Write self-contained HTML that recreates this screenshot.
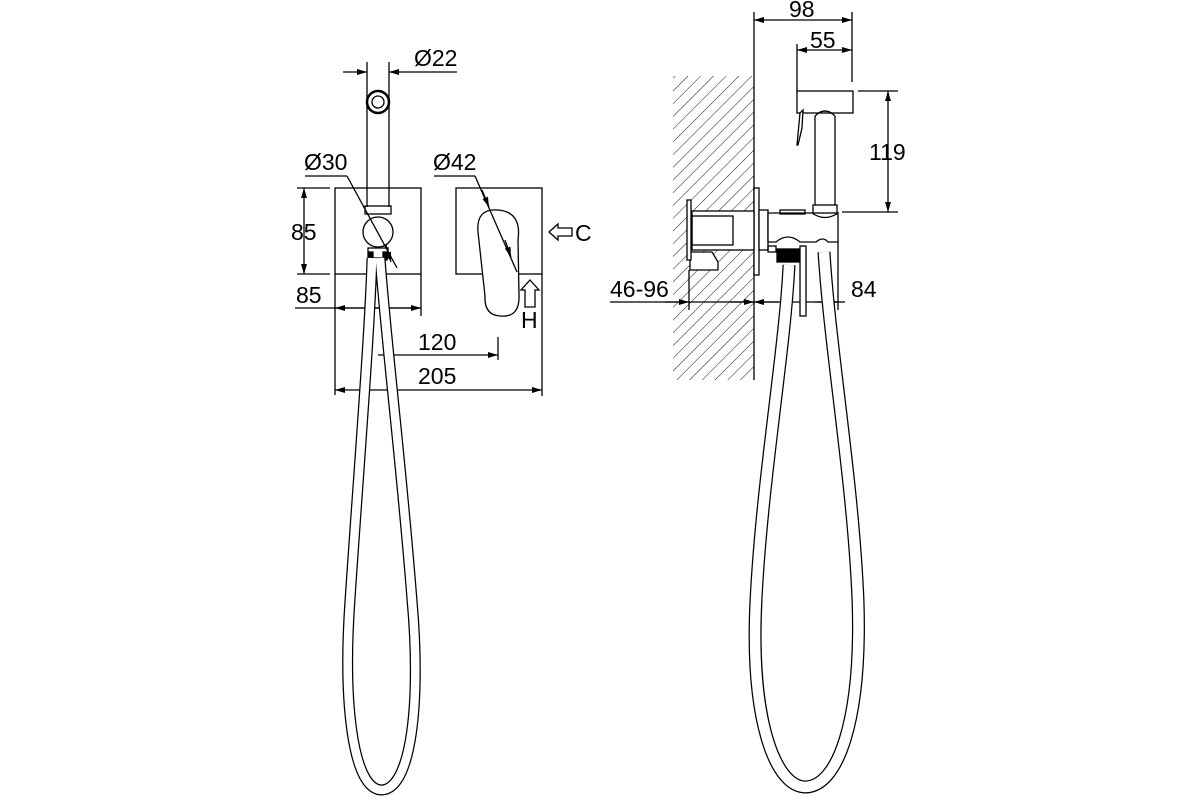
<!DOCTYPE html>
<html><head><meta charset="utf-8"><style>
html,body{margin:0;padding:0;background:#fff;}
svg{display:block}
text{font-family:"Liberation Sans",sans-serif;font-size:23px;fill:#000}
</style></head><body>
<svg width="1200" height="800" viewBox="0 0 1200 800" xmlns="http://www.w3.org/2000/svg">
<defs>
<pattern id="h" width="9" height="9" patternUnits="userSpaceOnUse" patternTransform="rotate(45)">
<line x1="0" y1="0" x2="0" y2="9" stroke="#000" stroke-width="0.9"/>
</pattern>
<marker id="a" viewBox="0 0 10 6" refX="10" refY="3" markerWidth="10" markerHeight="6" orient="auto-start-reverse" markerUnits="userSpaceOnUse">
<path d="M0,0 L10,3 L0,6 z" fill="#000"/>
</marker>
</defs>
<g fill="none" stroke="#000" stroke-width="1.3">
<line x1="367" y1="62" x2="367" y2="112"/><line x1="389" y1="62" x2="389" y2="112"/>
<line x1="343" y1="72" x2="367" y2="72" marker-end="url(#a)"/>
<line x1="457" y1="72" x2="389" y2="72" marker-end="url(#a)"/>
<circle cx="378" cy="102" r="11" stroke-width="2.5"/>
<circle cx="378" cy="102" r="6"/>
<line x1="367" y1="112" x2="367" y2="207"/><line x1="389" y1="112" x2="389" y2="207"/>
<rect x="365" y="206" width="26" height="8"/>
<rect x="335" y="188" width="86" height="86"/>
<rect x="456" y="188" width="86" height="86"/>
<circle cx="378" cy="232" r="15" fill="#fff"/>
<rect x="368" y="248" width="20" height="10"/>
<rect x="369" y="252" width="4" height="8" fill="#000"/><rect x="383" y="252" width="4" height="8" fill="#000"/>
<path d="M478,232 Q476,208 498,210 Q522,212 518,240 L519,295 Q520,318 500,316 Q484,315 485,296 Z" fill="#fff"/>
<line x1="305" y1="176" x2="347" y2="176"/>
<line x1="347" y1="176" x2="397" y2="268"/>
<line x1="434" y1="176" x2="475" y2="176"/>
<line x1="475" y1="176" x2="517" y2="272"/>
<line x1="386" y1="245" x2="391" y2="262" marker-end="url(#a)"/>
<line x1="482" y1="190" x2="489" y2="207" marker-end="url(#a)"/>
<line x1="505" y1="240" x2="511" y2="257" marker-end="url(#a)"/>
<line x1="297" y1="188" x2="330" y2="188"/><line x1="297" y1="274" x2="330" y2="274"/>
<line x1="304" y1="232" x2="304" y2="188" marker-end="url(#a)"/>
<line x1="304" y1="232" x2="304" y2="274" marker-end="url(#a)"/>
<line x1="335" y1="274" x2="335" y2="395"/><line x1="421" y1="274" x2="421" y2="316"/>
<line x1="295" y1="308" x2="421" y2="308"/>
<line x1="370" y1="308" x2="335" y2="308" marker-end="url(#a)"/>
<line x1="370" y1="308" x2="421" y2="308" marker-end="url(#a)"/>
<line x1="498" y1="337" x2="498" y2="360"/>
<line x1="378" y1="355" x2="498" y2="355" marker-end="url(#a)"/>
<line x1="542" y1="274" x2="542" y2="396"/>
<line x1="438" y1="390" x2="335" y2="390" marker-end="url(#a)"/>
<line x1="438" y1="390" x2="542" y2="390" marker-end="url(#a)"/>
<path d="M549,232 L558,224 L558,228 L572,228 L572,236 L558,236 L558,240 Z"/>
<path d="M530,280 L539,290 L535,290 L535,307 L525,307 L525,290 L521,290 Z"/>
<g stroke-width="11"><path d="M372,258 C370,330 358,480 350,600 C343,700 352,788 381,790 C412,790 421,700 412,600 C402,470 386,340 380,258"/></g>
<g stroke="#fff" stroke-width="8.5"><path d="M372,258 C370,330 358,480 350,600 C343,700 352,788 381,790 C412,790 421,700 412,600 C402,470 386,340 380,258"/></g>

<rect x="673" y="76" width="81" height="304" fill="url(#h)" stroke="none"/>
<line x1="754" y1="70" x2="754" y2="380"/>
<line x1="754" y1="12" x2="754" y2="70"/><line x1="852" y1="12" x2="852" y2="82"/>
<line x1="803" y1="20" x2="754" y2="20" marker-end="url(#a)"/>
<line x1="803" y1="20" x2="852" y2="20" marker-end="url(#a)"/>
<line x1="797" y1="44" x2="797" y2="91"/>
<line x1="824" y1="50" x2="797" y2="50" marker-end="url(#a)"/>
<line x1="824" y1="50" x2="852" y2="50" marker-end="url(#a)"/>
<rect x="797" y="91" width="56" height="22" fill="#fff"/>
<path d="M800,113 L803,110 L802,128 L798,145 L797,145 Z" fill="#fff"/>
<path d="M815,116 Q825,106 835,116"/>
<line x1="815" y1="116" x2="815" y2="205"/><line x1="835" y1="116" x2="835" y2="205"/>
<rect x="813" y="205" width="24" height="8"/>
<line x1="858" y1="91" x2="898" y2="91"/><line x1="842" y1="212" x2="898" y2="212"/>
<line x1="888" y1="150" x2="888" y2="91" marker-end="url(#a)"/>
<line x1="888" y1="150" x2="888" y2="212" marker-end="url(#a)"/>
<rect x="754" y="188" width="5" height="87" fill="#fff"/>
<rect x="692" y="211" width="62" height="39" fill="#fff"/>
<rect x="692" y="216" width="41" height="29"/>
<path d="M690,252 L712,252 L718,262 L718,270 L690,270 Z" fill="#fff"/>
<rect x="687" y="200" width="4" height="60" fill="#fff"/>
<rect x="759" y="210" width="9" height="40" fill="#fff"/>
<path d="M768,213 L812,213 Q825,222 838,213 L838,242 L828,242 Q823,236 816,242 L800,242 Q788,232 776,242 L768,242 Z" fill="#fff"/>
<rect x="780" y="210" width="25" height="4"/>
<rect x="768" y="246" width="8" height="6"/>
<rect x="777" y="249" width="23" height="13" fill="#000"/>
<line x1="689" y1="270" x2="689" y2="310"/><line x1="838" y1="242" x2="838" y2="310"/>
<line x1="610" y1="302" x2="830" y2="302"/>
<line x1="665" y1="302" x2="689" y2="302" marker-end="url(#a)"/>
<line x1="730" y1="302" x2="754" y2="302" marker-end="url(#a)"/>
<line x1="778" y1="302" x2="754" y2="302" marker-end="url(#a)"/>
<line x1="815" y1="302" x2="838" y2="302" marker-end="url(#a)"/>
<line x1="830" y1="302" x2="845" y2="302"/>
<g stroke-width="13"><path d="M789,265 C785,350 762,480 756,600 C750,720 775,786 805,787 C838,787 862,720 858,600 C853,480 830,350 824,252"/></g>
<g stroke="#fff" stroke-width="10.5"><path d="M789,265 C785,350 762,480 756,600 C750,720 775,786 805,787 C838,787 862,720 858,600 C853,480 830,350 824,252"/></g>
<rect x="800" y="246" width="6" height="70" fill="#fff"/>
</g>
<text x="414" y="66">Ø22</text>
<text x="304" y="170">Ø30</text>
<text x="433" y="170">Ø42</text>
<text x="291" y="240">85</text>
<text x="296" y="303">85</text>
<text x="575" y="241">C</text>
<text x="521" y="328">H</text>
<text x="418" y="350">120</text>
<text x="418" y="384">205</text>
<text x="789" y="17">98</text>
<text x="810" y="48">55</text>
<text x="869" y="160">119</text>
<text x="610" y="297">46-96</text>
<text x="851" y="297">84</text>
</svg>
</body></html>
